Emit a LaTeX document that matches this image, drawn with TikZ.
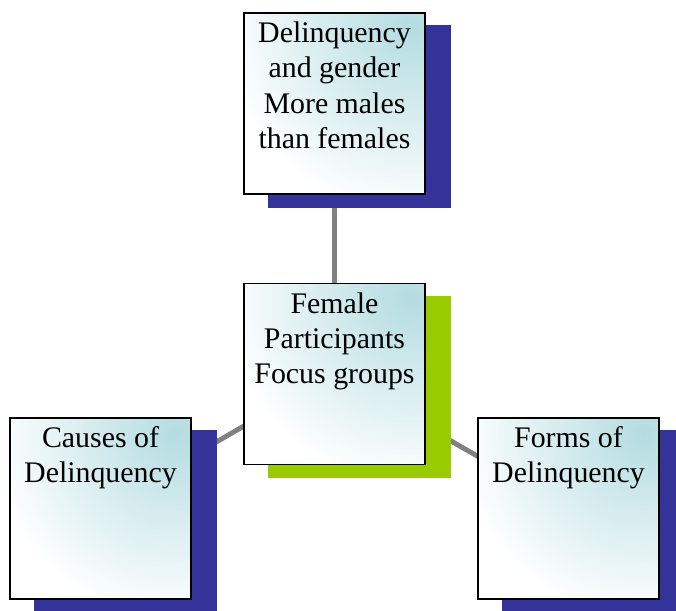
\documentclass[tikz,border=0pt]{standalone}
\usepackage{fontspec}
\setmainfont{Liberation Serif}
\usepackage{tikz}
\usetikzlibrary{backgrounds}
\definecolor{dlqblue}{HTML}{333399}
\definecolor{dlqgreen}{HTML}{99CC00}
\definecolor{dlqgray}{HTML}{808080}
\definecolor{dlqcyan}{HTML}{B4DCE1}
\newcommand{\boxtext}[1]{\parbox[t][3.45cm][t]{3.5cm}{\centering\fontsize{17}{20}\selectfont\rule{0pt}{14.5pt}#1}}

\begin{document}
\begin{tikzpicture}[x=1cm,y=1cm,
  dbox/.style={draw=black,line width=0.85pt,inner sep=0.06cm,fill=white,
    minimum width=3.62cm,minimum height=3.62cm,
    path picture={\shade[inner color=dlqcyan,outer color=white]
      ([xshift=-0.3cm,yshift=-0.3cm]path picture bounding box.north east) circle (3.7cm);}},
  link/.style={dlqgray,line width=2.8pt},
  shift shadow/.style={shift={(0.5,-0.26)}}]
  \useasboundingbox (0,0) rectangle (13.52,-12.22);
  \node[dbox] (gender) at (6.69,-2.07) {\boxtext{Delinquency\\and gender\\More males\\than females}};
  \node[dbox] (focus) at (6.69,-7.48) {\boxtext{Female\\Participants\\Focus groups}};
  \node[dbox] (causes) at (2.01,-10.17) {\boxtext{Causes of\\Delinquency}};
  \node[dbox] (forms) at (11.37,-10.17) {\boxtext{Forms of\\Delinquency}};
  \begin{scope}[on background layer]
    % connectors, then the offset shadows over them
    \draw[link] (focus.center) -- (gender.center);
    \draw[link] (focus.center) -- (causes.center);
    \draw[link] (focus.center) -- (forms.center);
    \fill[dlqblue] ([shift shadow]gender.south west) rectangle ([shift shadow]gender.north east);
    \fill[dlqgreen] ([shift shadow]focus.south west) rectangle ([shift shadow]focus.north east);
    \fill[dlqblue] ([shift shadow]causes.south west) rectangle ([shift shadow]causes.north east);
    \fill[dlqblue] ([shift shadow]forms.south west) rectangle ([shift shadow]forms.north east);
  \end{scope}
\end{tikzpicture}
\end{document}
